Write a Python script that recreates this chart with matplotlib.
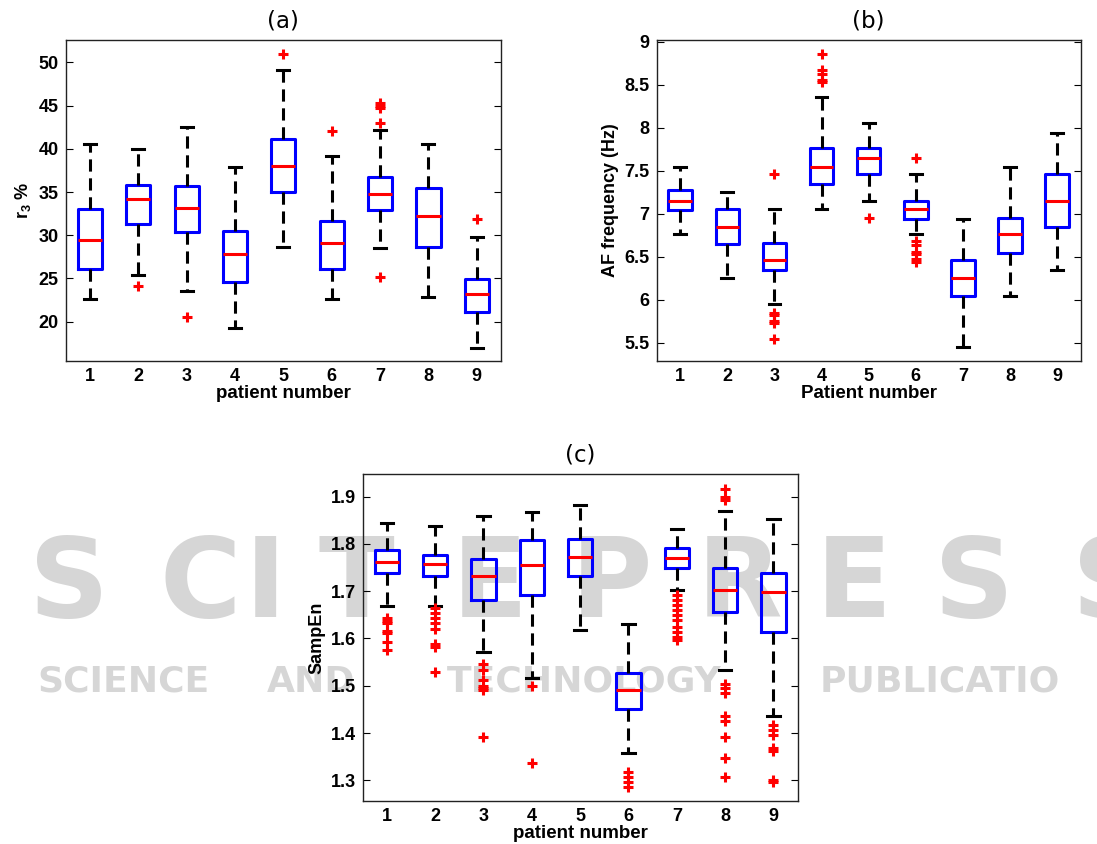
import numpy as np
import matplotlib.pyplot as plt

plt.rcParams['mathtext.fontset'] = 'custom'
plt.rcParams['mathtext.bf'] = 'Liberation Sans:bold'
plt.rcParams['mathtext.rm'] = 'Liberation Sans'

patients = [1, 2, 3, 4, 5, 6, 7, 8, 9]

# (a) r3 %
r3_whislo = [22.6, 25.4, 23.55, 19.3, 28.6, 22.6, 28.5, 22.9, 17.0]
r3_q1 = [26.15, 31.35, 30.35, 24.6, 35.0, 26.1, 32.9, 28.6, 21.1]
r3_med = [29.5, 34.2, 33.2, 27.8, 38.0, 29.1, 34.75, 32.2, 23.2]
r3_q3 = [33.05, 35.8, 35.7, 30.5, 41.2, 31.6, 36.75, 35.5, 24.9]
r3_whishi = [40.6, 40.0, 42.5, 37.9, 49.1, 39.15, 42.2, 40.6, 29.8]
r3_fliers = [[], [24.1], [20.5], [], [51.0], [42.1],
             [25.2, 43.0, 44.7, 45.0, 45.3], [], [31.9]]

# (b) AF frequency (Hz)
af_whislo = [6.76, 6.25, 5.95, 7.06, 7.15, 6.76, 5.45, 6.05, 6.35]
af_q1 = [7.05, 6.65, 6.35, 7.35, 7.46, 6.94, 6.05, 6.55, 6.85]
af_med = [7.15, 6.85, 6.46, 7.55, 7.65, 7.06, 6.25, 6.76, 7.15]
af_q3 = [7.28, 7.06, 6.66, 7.76, 7.76, 7.15, 6.46, 6.95, 7.46]
af_whishi = [7.55, 7.25, 7.06, 8.36, 8.05, 7.46, 6.94, 7.55, 7.94]
af_fliers = [[], [], [7.46, 5.85, 5.82, 5.76, 5.73, 5.55],
             [8.86, 8.67, 8.63, 8.55, 8.53], [6.95],
             [7.65, 6.68, 6.64, 6.56, 6.53, 6.47, 6.44], [], [], []]

# (c) SampEn
se_whislo = [1.669, 1.669, 1.571, 1.517, 1.618, 1.358, 1.703, 1.533, 1.437]
se_q1 = [1.738, 1.733, 1.681, 1.691, 1.731, 1.451, 1.750, 1.655, 1.613]
se_med = [1.762, 1.758, 1.731, 1.755, 1.772, 1.492, 1.770, 1.703, 1.698]
se_q3 = [1.787, 1.777, 1.767, 1.808, 1.810, 1.528, 1.791, 1.750, 1.739]
se_whishi = [1.844, 1.837, 1.858, 1.868, 1.883, 1.631, 1.832, 1.870, 1.852]
se_fliers = [
    [1.643, 1.637, 1.632, 1.616, 1.611, 1.593, 1.575],
    [1.664, 1.653, 1.643, 1.632, 1.621, 1.588, 1.583, 1.530],
    [1.547, 1.533, 1.512, 1.499, 1.495, 1.490, 1.392],
    [1.500, 1.336],
    [],
    [1.318, 1.308, 1.297, 1.287],
    [1.692, 1.681, 1.671, 1.660, 1.650, 1.639, 1.625, 1.614, 1.604, 1.597],
    [1.916, 1.899, 1.893, 1.503, 1.495, 1.484, 1.436, 1.425, 1.392, 1.348, 1.308],
    [1.416, 1.406, 1.396, 1.368, 1.363, 1.301, 1.297],
]

fig = plt.figure(figsize=(10.97, 8.44), dpi=100)

# faint publisher watermark, drawn behind the panels
wm = '#d6d6d6'
big_letters = list('SCITEPRESS')
big_x = [69, 200, 265, 356, 490, 611, 740, 854, 974, 1112]
for ch, xp in zip(big_letters, big_x):
    fig.text(xp / 1097, 1 - 617 / 844, ch, color=wm, fontsize=80,
             fontweight='bold', family='DejaVu Sans', ha='center',
             va='baseline', zorder=-5)
small_words = ['SCIENCE', 'AND', 'TECHNOLOGY', 'PUBLICATIO']
small_x = [124, 311, 584, 940]
for w, xp in zip(small_words, small_x):
    fig.text(xp / 1097, 1 - 692 / 844, w, color=wm, fontsize=26,
             fontweight='bold', family='DejaVu Sans', ha='center',
             va='baseline', zorder=-5)


def panel(rect, whislo, q1, med, q3, whishi, fliers, ylim, yticks,
          yticklabels, ylabel, xlabel, title):
    ax = fig.add_axes(rect)
    ax.set_facecolor('none')
    stats = []
    for i in range(len(patients)):
        stats.append(dict(whislo=whislo[i], q1=q1[i], med=med[i], q3=q3[i],
                          whishi=whishi[i], fliers=fliers[i]))
    ax.bxp(stats, positions=patients, widths=0.5,
           boxprops=dict(color='#0000ff', linewidth=2.2),
           medianprops=dict(color='#ff0000', linewidth=2.2),
           whiskerprops=dict(color='black', linewidth=2.2, linestyle=(0, (4, 2.2))),
           capprops=dict(color='black', linewidth=2.2),
           flierprops=dict(marker='+', markeredgecolor='#ff0000',
                           markersize=7, markeredgewidth=2.2))
    ax.set_xlim(0.5, 9.5)
    ax.set_ylim(*ylim)
    ax.set_yticks(yticks)
    ax.set_yticklabels(yticklabels)
    ax.set_xticks(patients)
    ax.set_xticklabels([str(p) for p in patients])
    ax.tick_params(axis='y', direction='in', left=True, right=True, length=5,
                   width=0.8, pad=5)
    ax.tick_params(axis='x', length=0, pad=5)
    for lab in ax.get_xticklabels() + ax.get_yticklabels():
        lab.set_fontfamily('Liberation Sans')
        lab.set_fontweight('bold')
        lab.set_fontsize(13)
    for s in ax.spines.values():
        s.set_linewidth(1.0)
        s.set_color('#222222')
    ax.set_xlabel(xlabel, fontfamily='Liberation Sans', fontweight='bold',
                  fontsize=13.5, labelpad=0)
    ax.set_ylabel(ylabel, fontfamily='Liberation Sans', fontweight='bold',
                  fontsize=13, labelpad=4)
    ax.set_title(title, fontfamily='DejaVu Sans', fontsize=16.5, pad=9)
    return ax


panel([0.0599, 0.5723, 0.3968, 0.3803], r3_whislo, r3_q1, r3_med, r3_q3,
      r3_whishi, r3_fliers, (15.45, 52.6), [20, 25, 30, 35, 40, 45, 50],
      ['20', '25', '30', '35', '40', '45', '50'],
      r'$\mathbf{r_3}$ $\mathbf{\%}$', 'patient number', '(a)')

panel([0.5986, 0.5723, 0.3865, 0.3803], af_whislo, af_q1, af_med, af_q3,
      af_whishi, af_fliers, (5.29, 9.02),
      [5.5, 6, 6.5, 7, 7.5, 8, 8.5, 9],
      ['5.5', '6', '6.5', '7', '7.5', '8', '8.5', '9'],
      'AF frequency (Hz)', 'Patient number', '(b)')

panel([0.3306, 0.0513, 0.3965, 0.3867], se_whislo, se_q1, se_med, se_q3,
      se_whishi, se_fliers, (1.257, 1.947),
      [1.3, 1.4, 1.5, 1.6, 1.7, 1.8, 1.9],
      ['1.3', '1.4', '1.5', '1.6', '1.7', '1.8', '1.9'],
      'SampEn', 'patient number', '(c)')

fig.savefig('out.png', dpi=100)
